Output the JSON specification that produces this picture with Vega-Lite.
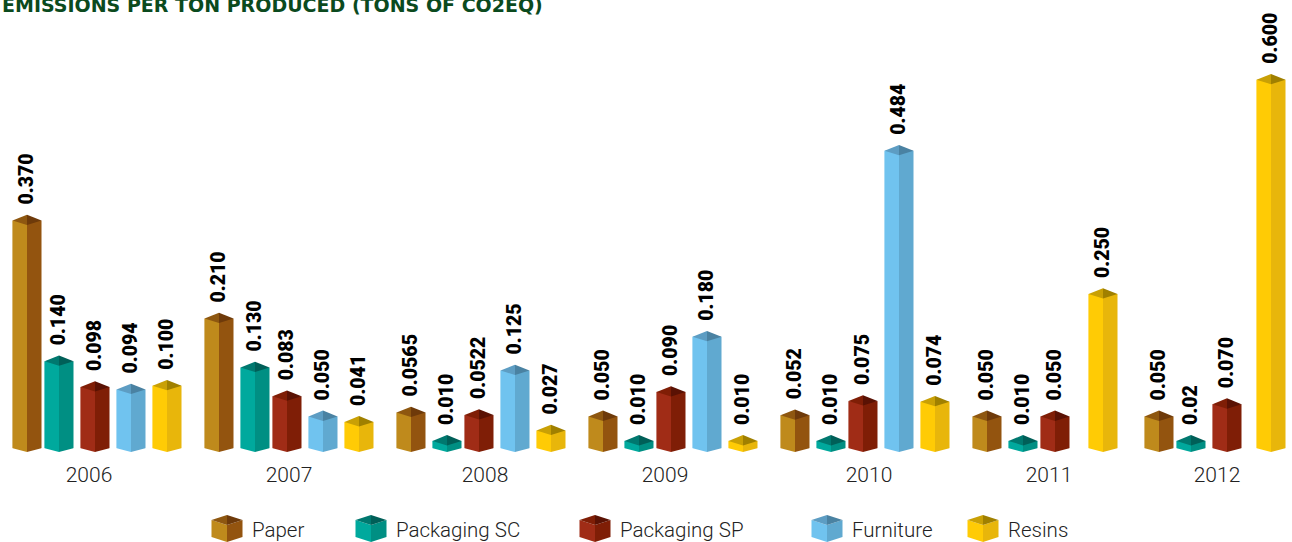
{"$schema":"https://vega.github.io/schema/vega-lite/v6.json","width":1292,"height":542,"padding":0,"autosize":"none","background":"white","config":{"view":{"stroke":null}},
"datasets":{"bars":[
{"at":"2006 Paper","series":"Paper","value":0.37,"label":"0.370"},{"at":"2006 Packaging SC","series":"Packaging SC","value":0.14,"label":"0.140"},{"at":"2006 Packaging SP","series":"Packaging SP","value":0.098,"label":"0.098"},{"at":"2006 Furniture","series":"Furniture","value":0.094,"label":"0.094"},{"at":"2006 Resins","series":"Resins","value":0.1,"label":"0.100"},
{"at":"2007 Paper","series":"Paper","value":0.21,"label":"0.210"},{"at":"2007 Packaging SC","series":"Packaging SC","value":0.13,"label":"0.130"},{"at":"2007 Packaging SP","series":"Packaging SP","value":0.083,"label":"0.083"},{"at":"2007 Furniture","series":"Furniture","value":0.05,"label":"0.050"},{"at":"2007 Resins","series":"Resins","value":0.041,"label":"0.041"},
{"at":"2008 Paper","series":"Paper","value":0.0565,"label":"0.0565"},{"at":"2008 Packaging SC","series":"Packaging SC","value":0.01,"label":"0.010"},{"at":"2008 Packaging SP","series":"Packaging SP","value":0.0522,"label":"0.0522"},{"at":"2008 Furniture","series":"Furniture","value":0.125,"label":"0.125"},{"at":"2008 Resins","series":"Resins","value":0.027,"label":"0.027"},
{"at":"2009 Paper","series":"Paper","value":0.05,"label":"0.050"},{"at":"2009 Packaging SC","series":"Packaging SC","value":0.01,"label":"0.010"},{"at":"2009 Packaging SP","series":"Packaging SP","value":0.09,"label":"0.090"},{"at":"2009 Furniture","series":"Furniture","value":0.18,"label":"0.180"},{"at":"2009 Resins","series":"Resins","value":0.01,"label":"0.010"},
{"at":"2010 Paper","series":"Paper","value":0.052,"label":"0.052"},{"at":"2010 Packaging SC","series":"Packaging SC","value":0.01,"label":"0.010"},{"at":"2010 Packaging SP","series":"Packaging SP","value":0.075,"label":"0.075"},{"at":"2010 Furniture","series":"Furniture","value":0.484,"label":"0.484"},{"at":"2010 Resins","series":"Resins","value":0.074,"label":"0.074"},
{"at":"2011 Paper","series":"Paper","value":0.05,"label":"0.050"},{"at":"2011 Packaging SC","series":"Packaging SC","value":0.01,"label":"0.010"},{"at":"2011 Packaging SP","series":"Packaging SP","value":0.05,"label":"0.050"},{"at":"2011 Resins","series":"Resins","value":0.25,"label":"0.250"},
{"at":"2012 Paper","series":"Paper","value":0.05,"label":"0.050"},{"at":"2012 Packaging SC","series":"Packaging SC","value":0.01,"label":"0.02"},{"at":"2012 Packaging SP","series":"Packaging SP","value":0.07,"label":"0.070"},{"at":"2012 Resins","series":"Resins","value":0.6,"label":"0.600"}],
"years":[{"at":"2006"},{"at":"2007"},{"at":"2008"},{"at":"2009"},{"at":"2010"},{"at":"2011"},{"at":"2012"}],
"heading":[{"at":"1","text":"EMISSIONS PER TON PRODUCED (TONS OF CO2EQ)"}],
"legend":[{"at":"Paper"},{"at":"Packaging SC"},{"at":"Packaging SP"},{"at":"Furniture"},{"at":"Resins"}]},
"encoding":{"x":{"field":"at","type":"nominal","axis":null,"scale":{"type":"point","padding":0,"range":[-1,1291],"domain":["0","1","2","3","4","5","6","2006 Paper","8","9","10","11","12","13","14","2006 Packaging SC","16","17","18","19","20","21","22","2006","2006 Packaging SP","25","26","27","28","29","30","31","32","2006 Furniture","34","35","36","37","38","39","40","41","2006 Resins","43","44","45","46","47","48","49","50","51","52","53","54","2007 Paper","56","Paper","58","59","60","61","62","63","2007 Packaging SC","65","66","67","68","69","70","71","2007 Packaging SP","2007","74","75","76","77","78","79","80","2007 Furniture","82","83","84","85","86","87","88","89","2007 Resins","91","92","Packaging SC","94","95","96","97","98","99","100","101","102","2008 Paper","104","105","106","107","108","109","110","111","2008 Packaging SC","113","114","115","116","117","118","119","2008 Packaging SP","121","2008","123","124","125","126","127","128","2008 Furniture","130","131","132","133","134","135","136","137","2008 Resins","139","140","141","142","143","144","145","146","147","148","Packaging SP","150","2009 Paper","152","153","154","155","156","157","158","159","2009 Packaging SC","161","162","163","164","165","166","2009","2009 Packaging SP","169","170","171","172","173","174","175","176","2009 Furniture","178","179","180","181","182","183","184","185","2009 Resins","187","188","189","190","191","192","193","194","195","196","197","198","2010 Paper","200","201","202","203","204","205","206","Furniture","2010 Packaging SC","209","210","211","212","213","214","215","2010 Packaging SP","217","2010","219","220","221","222","223","224","2010 Furniture","226","227","228","229","230","231","232","233","2010 Resins","235","236","237","238","239","240","241","242","243","244","245","Resins","2011 Paper","248","249","250","251","252","253","254","255","2011 Packaging SC","257","258","259","260","261","262","2011","2011 Packaging SP","265","266","267","268","269","270","271","272","273","274","275","2011 Resins","277","278","279","280","281","282","283","284","285","286","287","288","289","2012 Paper","291","292","293","294","295","296","297","2012 Packaging SC","299","300","301","302","303","304","2012","306","2012 Packaging SP","308","309","310","311","312","313","314","315","316","317","2012 Resins","319","320","321","322","323"]}}},
"layer":[
{"data":{"name":"heading"},"mark":{"type":"text","align":"left","baseline":"alphabetic","dx":-1,"font":"DejaVu Sans","fontSize":19,"fontWeight":"bold","color":"#0B4A1E"},"encoding":{"y":{"datum":0.7108,"type":"quantitative","axis":null,"scale":{"domain":[-0.1552,0.7304],"nice":false,"zero":false}},"text":{"field":"text","type":"nominal"}}},
{"data":{"name":"bars"},"mark":{"type":"bar","width":14.7,"xOffset":-7.25},"encoding":{"y":{"field":"value","type":"quantitative","axis":null,"scale":{"domain":[-0.1552,0.7304],"nice":false,"zero":false}},"y2":{"datum":-0.00817},"color":{"field":"series","type":"nominal","legend":null,"scale":{"domain":["Paper","Packaging SC","Packaging SP","Furniture","Resins"],"range":["#BF8A1C","#00A99D","#A02C16","#70C3EF","#FFCB05"]}}}},
{"data":{"name":"bars"},"mark":{"type":"bar","width":14.5,"xOffset":7.25},"encoding":{"y":{"field":"value","type":"quantitative","axis":null,"scale":{"domain":[-0.1552,0.7304],"nice":false,"zero":false}},"y2":{"datum":-0.00817},"color":{"field":"series","type":"nominal","legend":null,"scale":{"domain":["Paper","Packaging SC","Packaging SP","Furniture","Resins"],"range":["#93540F","#008F83","#7F1E06","#60A9D0","#E8B60B"]}}}},
{"data":{"name":"bars"},"mark":{"type":"point","filled":true,"opacity":1,"size":841,"shape":"M-1 0L0 -0.4L0 0.31Z"},"encoding":{"y":{"field":"value","type":"quantitative","axis":null,"scale":{"domain":[-0.1552,0.7304],"nice":false,"zero":false}},"color":{"field":"series","type":"nominal","legend":null,"scale":{"domain":["Paper","Packaging SC","Packaging SP","Furniture","Resins"],"range":["#8E5710","#00786F","#7F1E06","#5D9DC3","#C9A005"]}}}},
{"data":{"name":"bars"},"mark":{"type":"point","filled":true,"opacity":1,"size":841,"shape":"M1 0L0 -0.4L0 0.31Z"},"encoding":{"y":{"field":"value","type":"quantitative","axis":null,"scale":{"domain":[-0.1552,0.7304],"nice":false,"zero":false}},"color":{"field":"series","type":"nominal","legend":null,"scale":{"domain":["Paper","Packaging SC","Packaging SP","Furniture","Resins"],"range":["#6E3A0A","#005F58","#5A1204","#4A82A2","#A08000"]}}}},
{"data":{"name":"bars"},"mark":{"type":"point","filled":true,"opacity":1,"size":841,"shape":"M-1.05 0.05L-1.05 -0.28L0 0L1.05 -0.28L1.05 0.05Z","color":"white"},"encoding":{"y":{"datum":-0.00817,"type":"quantitative","axis":null,"scale":{"domain":[-0.1552,0.7304],"nice":false,"zero":false}}}},
{"data":{"name":"bars"},"mark":{"type":"text","angle":270,"align":"left","baseline":"middle","dx":16,"font":"Roboto","fontSize":19.5,"fontWeight":900,"color":"#000000"},"encoding":{"y":{"field":"value","type":"quantitative","axis":null,"scale":{"domain":[-0.1552,0.7304],"nice":false,"zero":false}},"text":{"field":"label","type":"nominal"}}},
{"data":{"name":"years"},"mark":{"type":"text","dx":-2,"align":"center","baseline":"middle","font":"Roboto","fontWeight":300,"fontSize":21,"color":"#222222"},"encoding":{"y":{"datum":-0.0474,"type":"quantitative","axis":null,"scale":{"domain":[-0.1552,0.7304],"nice":false,"zero":false}},"text":{"field":"at","type":"nominal"}}},
{"data":{"name":"legend"},"mark":{"type":"point","filled":true,"opacity":1,"size":961,"shape":"M-1 -0.52L0 -0.2L0 0.9L-1 0.58Z"},"encoding":{"y":{"datum":-0.1324,"type":"quantitative","axis":null,"scale":{"domain":[-0.1552,0.7304],"nice":false,"zero":false}},"color":{"field":"at","type":"nominal","legend":null,"scale":{"domain":["Paper","Packaging SC","Packaging SP","Furniture","Resins"],"range":["#BF8A1C","#00A99D","#A02C16","#70C3EF","#FFCB05"]}}}},
{"data":{"name":"legend"},"mark":{"type":"point","filled":true,"opacity":1,"size":961,"shape":"M1 -0.52L0 -0.2L0 0.9L1 0.58Z"},"encoding":{"y":{"datum":-0.1324,"type":"quantitative","axis":null,"scale":{"domain":[-0.1552,0.7304],"nice":false,"zero":false}},"color":{"field":"at","type":"nominal","legend":null,"scale":{"domain":["Paper","Packaging SC","Packaging SP","Furniture","Resins"],"range":["#93540F","#008F83","#7F1E06","#60A9D0","#E8B60B"]}}}},
{"data":{"name":"legend"},"mark":{"type":"point","filled":true,"opacity":1,"size":961,"shape":"M-1 -0.52L0 -0.84L0 -0.2Z"},"encoding":{"y":{"datum":-0.1324,"type":"quantitative","axis":null,"scale":{"domain":[-0.1552,0.7304],"nice":false,"zero":false}},"color":{"field":"at","type":"nominal","legend":null,"scale":{"domain":["Paper","Packaging SC","Packaging SP","Furniture","Resins"],"range":["#8E5710","#00786F","#7F1E06","#5D9DC3","#C9A005"]}}}},
{"data":{"name":"legend"},"mark":{"type":"point","filled":true,"opacity":1,"size":961,"shape":"M1 -0.52L0 -0.84L0 -0.2Z"},"encoding":{"y":{"datum":-0.1324,"type":"quantitative","axis":null,"scale":{"domain":[-0.1552,0.7304],"nice":false,"zero":false}},"color":{"field":"at","type":"nominal","legend":null,"scale":{"domain":["Paper","Packaging SC","Packaging SP","Furniture","Resins"],"range":["#6E3A0A","#005F58","#5A1204","#4A82A2","#A08000"]}}}},
{"data":{"name":"legend"},"mark":{"type":"text","dx":25,"align":"left","baseline":"middle","font":"Roboto","fontWeight":300,"fontSize":20.5,"color":"#222222"},"encoding":{"y":{"datum":-0.1373,"type":"quantitative","axis":null,"scale":{"domain":[-0.1552,0.7304],"nice":false,"zero":false}},"text":{"field":"at","type":"nominal"}}}
],
"resolve":{"scale":{"color":"independent"}}}
